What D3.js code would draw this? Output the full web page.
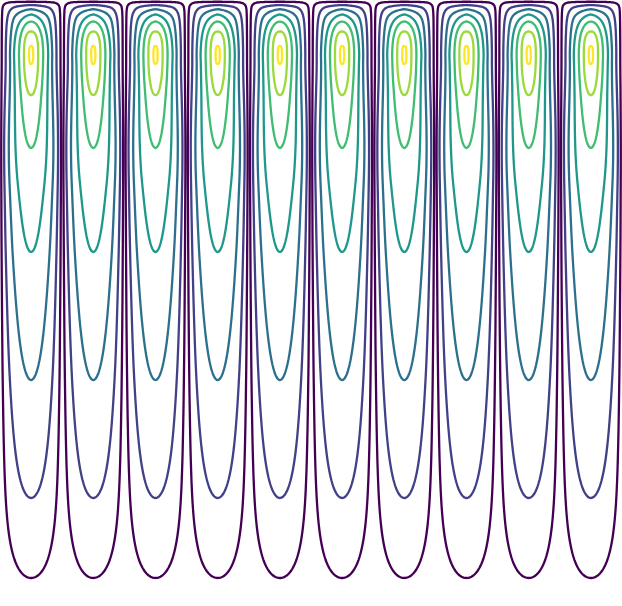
<!DOCTYPE html>
<html><head><meta charset="utf-8">
<script src="https://cdn.jsdelivr.net/npm/d3@7"></script>
<style>html,body{margin:0;padding:0;background:#fff;} svg{display:block;}</style>
</head><body>
<script>
const width = 622, height = 606;
const cellCount = 10;
const thresholds = [1, 2, 3, 4, 5, 6, 7];
const peakLevel = 7.3;
// Level crossings across one cell on the peak row (offset from the cell wall, fraction of a cell)
const acrossOffset = [0, 0.0273, 0.0916, 0.1608, 0.2251, 0.3055, 0.3859, 0.4662, 0.5];
const acrossLevel  = [0, 1, 2, 3, 4, 5, 6, 7, 7.3];
// Level crossings down the centre of a cell (depth, fraction of the full height)
const downDepth = [0, 0.0028, 0.0083, 0.0152, 0.0239, 0.0355, 0.0520, 0.0759, 0.0908, 0.1056, 0.1568, 0.2442, 0.4158, 0.6271, 0.8218, 0.9538, 1];
const downLevel = [0, 1, 2, 3, 4, 5, 6, 7, 7.3, 7, 6, 5, 4, 3, 2, 1, 0.6];
// Lower part of each cell: cross profile sin(pi*u)^deepExponent; transition depth range
const deepExponent = 0.55;
const transition = [0.09, 0.30];
// Around the peak the level sets become elliptic between these levels
const roundRange = [3, 6];

function monotone(xs, ys) {
  const n = xs.length, m = [], t = new Array(n);
  for (let k = 0; k < n - 1; k++) m.push((ys[k+1] - ys[k]) / (xs[k+1] - xs[k]));
  t[0] = m[0]; t[n-1] = m[n-2];
  for (let k = 1; k < n - 1; k++) t[k] = (m[k-1] * m[k] <= 0) ? 0 : (m[k-1] + m[k]) / 2;
  for (let k = 0; k < n - 1; k++) {
    if (m[k] === 0) { t[k] = 0; t[k+1] = 0; continue; }
    const a = t[k] / m[k], b = t[k+1] / m[k], s = a*a + b*b;
    if (s > 9) { const tau = 3 / Math.sqrt(s); t[k] = tau*a*m[k]; t[k+1] = tau*b*m[k]; }
  }
  return function(x) {
    let k = d3.bisectRight(xs, x) - 1;
    k = Math.max(0, Math.min(n - 2, k));
    const h = xs[k+1] - xs[k], s = (x - xs[k]) / h;
    const s2 = s*s, s3 = s2*s;
    return (2*s3 - 3*s2 + 1) * ys[k] + (s3 - 2*s2 + s) * h * t[k]
         + (-2*s3 + 3*s2) * ys[k+1] + (s3 - s2) * h * t[k+1];
  };
}
const smooth = t => { t = Math.max(0, Math.min(1, t)); return t * t * (3 - 2 * t); };

const fullOffset = acrossOffset.concat(acrossOffset.slice(0, -1).reverse().map(o => 1 - o));
const fullLevel = acrossLevel.concat(acrossLevel.slice(0, -1).reverse());
const acrossFn = monotone(fullOffset, fullLevel);
const downFn = monotone(downDepth, downLevel);

const half = 1 / (2 * peakLevel);
function toPart(f) {
  if (f <= 0) return 0;
  const q = 1 / f - half;
  return q <= 0 ? Infinity : 1 / q;
}

const x = d3.scaleLinear().domain([0, cellCount]).range([0, width]);
const y = d3.scaleLinear().domain([0, 1]).range([0, height]);

const n = width, mRows = height;
const colPart = new Float64Array(n), colDeep = new Float64Array(n), colDef = new Float64Array(n);
for (let i = 0; i < n; i++) {
  const cx = x.invert(i + 0.5);
  const u = cx - Math.floor(cx);
  const fp = acrossFn(u);
  colPart[i] = toPart(fp);
  colDef[i] = peakLevel - fp;
  colDeep[i] = Math.pow(Math.max(0, Math.sin(Math.PI * u)), deepExponent);
}
const rowPart = new Float64Array(mRows), rowCentre = new Float64Array(mRows), rowW = new Float64Array(mRows), rowDef = new Float64Array(mRows);
for (let j = 0; j < mRows; j++) {
  const v = y.invert(j + 0.5);
  const fc = downFn(v);
  rowCentre[j] = fc;
  rowPart[j] = toPart(fc);
  rowDef[j] = peakLevel - fc;
  rowW[j] = smooth((v - transition[0]) / (transition[1] - transition[0]));
}

const values = new Float64Array(n * mRows);
for (let j = 0; j < mRows; j++) {
  const B = rowPart[j], w = rowW[j], fc = rowCentre[j], dy = rowDef[j];
  for (let i = 0; i < n; i++) {
    const A = colPart[i];
    const harm = (A === 0 || B === 0) ? 0 : 1 / (1 / A + 1 / B);
    const dx = colDef[i];
    const ell = peakLevel - Math.sqrt(dx * dx + dy * dy);
    const lam = smooth((harm - roundRange[0]) / (roundRange[1] - roundRange[0]));
    const top = (1 - lam) * harm + lam * ell;
    const deep = fc * colDeep[i];
    values[j * n + i] = (1 - w) * top + w * deep;
  }
}

const color = d3.scaleSequentialPow(d3.interpolateViridis).exponent(0.85).domain([thresholds[0], thresholds[thresholds.length - 1]]);
const contours = d3.contours().size([n, mRows]).thresholds(thresholds)(Array.from(values));

const svg = d3.select("body").append("svg").attr("width", width).attr("height", height);
svg.append("g").attr("fill", "none").attr("stroke-width", 2.3)
  .selectAll("path").data(contours).join("path")
  .attr("stroke", d => color(d.value))
  .attr("d", d3.geoPath());
</script>
</body></html>
